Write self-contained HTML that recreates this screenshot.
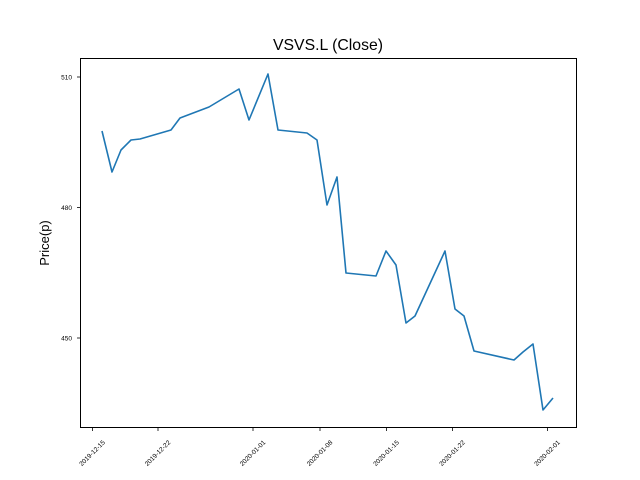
<!DOCTYPE html>
<html><head><style>body{margin:0;background:#fff}svg{display:block}</style></head>
<body>
<svg width="640" height="480" xmlns="http://www.w3.org/2000/svg" font-family="Liberation Sans, DejaVu Sans, sans-serif">
<rect width="640" height="480" fill="#fff"/>
<text x="328" y="50" font-size="15.8" text-anchor="middle">VSVS.L (Close)</text>
<text transform="translate(49,243) rotate(-90)" font-size="13" text-anchor="middle">Price(p)</text>
<polyline fill="none" stroke="#1f77b4" stroke-width="1.6" stroke-linejoin="round" points="102,131 112,172 121,150 131,140 140,139 171,130 180,118 209,107 239,89 249,120 268,74 278,130 307,133 317,140 327,205 337,177 346,273 376,276 386,251 396,265 406,323 415,316 445,251 455,309 464,316 474,351 514,360 523,352 533,344 543,410 553,398"/>
<rect x="80.5" y="58.5" width="496" height="369" fill="none" stroke="#000" stroke-width="1"/>
<g stroke="#000" stroke-width="0.8">
<line x1="77" y1="77" x2="80" y2="77"/><line x1="77" y1="207.5" x2="80" y2="207.5"/><line x1="77" y1="338" x2="80" y2="338"/>
<line x1="92.5" y1="428" x2="92.5" y2="431"/><line x1="158" y1="428" x2="158" y2="431"/><line x1="253" y1="428" x2="253" y2="431"/><line x1="320" y1="428" x2="320" y2="431"/><line x1="386.5" y1="428" x2="386.5" y2="431"/><line x1="452.5" y1="428" x2="452.5" y2="431"/><line x1="547.5" y1="428" x2="547.5" y2="431"/>
</g>
<g font-size="6.5" text-anchor="end">
<text x="72" y="79.5">510</text><text x="72" y="210">480</text><text x="72" y="340.5">450</text>
</g>
<g font-size="6.5" text-anchor="middle">
<text transform="translate(92,453) rotate(-45)" dy="2.3">2019-12-15</text>
<text transform="translate(157.5,453) rotate(-45)" dy="2.3">2019-12-22</text>
<text transform="translate(252.5,453) rotate(-45)" dy="2.3">2020-01-01</text>
<text transform="translate(319.5,453) rotate(-45)" dy="2.3">2020-01-08</text>
<text transform="translate(386,453) rotate(-45)" dy="2.3">2020-01-15</text>
<text transform="translate(452,453) rotate(-45)" dy="2.3">2020-01-22</text>
<text transform="translate(547,453) rotate(-45)" dy="2.3">2020-02-01</text>
</g>
</svg>
</body></html>
